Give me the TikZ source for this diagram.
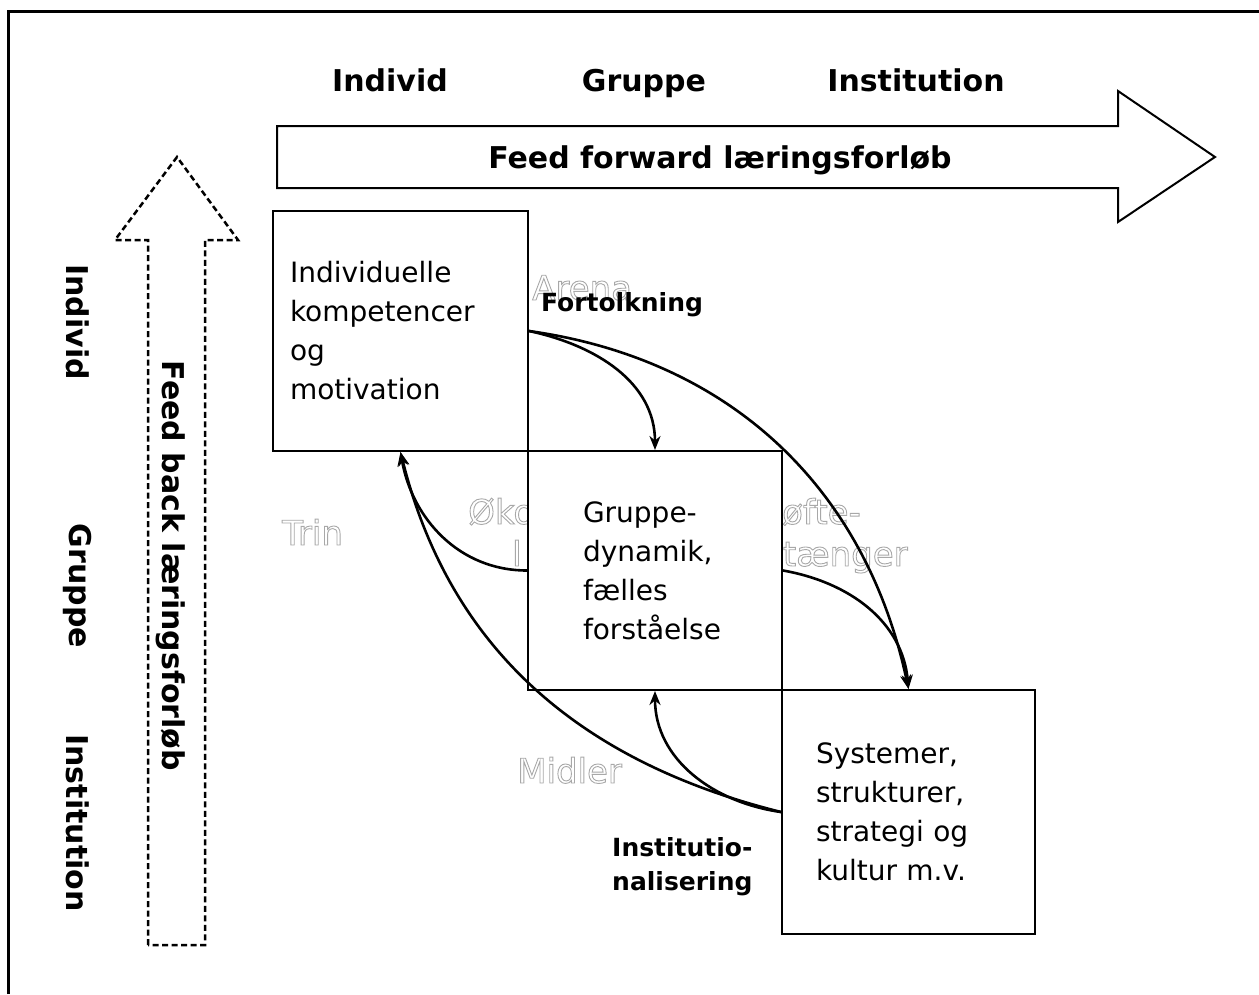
\documentclass[tikz,border=0pt]{standalone}
\usepackage{fontspec}
\setmainfont{DejaVu Sans}
\usepackage{xcolor}
\usetikzlibrary{positioning,arrows.meta}
\definecolor{ghostgray}{HTML}{A8A8A8}
\newcommand{\boxfont}{\fontsize{28}{39}\selectfont}
\newcommand{\axisfont}{\fontsize{30}{36}\selectfont\bfseries}
\newcommand{\lblfont}{\fontsize{25}{34}\selectfont\bfseries}
\newcommand{\ghostfont}{\fontsize{34}{41}\selectfont}
% hollow grey letters: stroke only
\newcommand{\ghost}[1]{\special{pdf:literal q 1 Tr 0.9 w 0.62 0.62 0.62 RG}%
  {\color{ghostgray}#1}\special{pdf:literal Q}}
\tikzset{
  >={Stealth[length=14pt,width=11pt]},
  box/.style   = {draw, line width=2pt, fill=white, align=left, font=\boxfont},
  axis/.style  = {font=\axisfont, inner sep=0pt, anchor=base},
  lbl/.style   = {font=\lblfont, align=left, inner sep=0pt},
  ghosttxt/.style = {font=\ghostfont, inner sep=0pt, anchor=base west},
  fat/.style   = {draw, line width=2pt, fill=white},
  loop/.style  = {->, line width=2.6pt},
}

\begin{document}
\begin{tikzpicture}[x=1pt, y=-1pt]
\useasboundingbox (0,0) rectangle (1259,994);

% ---- frame ------------------------------------------------------------
\draw[line width=3pt] (8,994) -- (8,11) -- (1259,11);

% ---- forward arrow ----------------------------------------------------
\draw[fat] (277,126) -- (1118,126) -- (1118,91) -- (1215,157)
  -- (1118,222) -- (1118,188) -- (277,188) -- cycle;
\node[axis] (fwd) at (720,168) {Feed forward læringsforløb};
\node[axis] (topI) at (390,91) {Individ};
\node[axis] (topG) at (644,91) {Gruppe};
\node[axis] (topS) at (916,91) {Institution};

% ---- feedback arrow ---------------------------------------------------
\draw[fat, line width=2.5pt, dash pattern=on 6pt off 3.5pt]
  (148,945) -- (148,240) -- (115,240) -- (177,157)
  -- (238,240) -- (205,240) -- (205,945) -- cycle;
\node[axis, rotate=-90, anchor=center] (bwd) at (171,566) {Feed back læringsforløb};
\node[axis, rotate=-90, anchor=center] (leftI) at (78,322) {Individ};
\node[axis, rotate=-90, anchor=center] (leftG) at (78,586) {Gruppe};
\node[axis, rotate=-90, anchor=center] (leftS) at (78,823) {Institution};

% ---- ghost labels (behind the boxes) ----------------------------------
\node[ghosttxt] (gArena) at (532,300) {\ghost{Arena}};
\node[ghosttxt] (gTrin) at (282,545) {\ghost{Trin}};
\node[ghosttxt] (gOek) at (468,524) {\ghost{Øko}};
\node[ghosttxt] (gOek2) at (512,566) {\ghost{l}};
\node[ghosttxt] (gLoeft) at (763,524) {\ghost{Løfte-}};
\node[ghosttxt] (gLoeft2) at (765,566) {\ghost{stænger}};
\node[ghosttxt] (gMidler) at (517,783) {\ghost{Midler}};

% ---- the three boxes --------------------------------------------------
\node[box, text width=221pt, inner xsep=17pt, minimum height=240pt]
  (b1) at (400.5,331) {Individuelle\\kompetencer\\og\\motivation};
\node[box, text width=144pt, inner xsep=55pt, minimum height=239pt]
  (b2) at (655,570.5) {Gruppe-\\dynamik,\\fælles\\forståelse};
\node[box, text width=185pt, inner xsep=34pt, minimum height=244pt]
  (b3) at (908.5,812) {Systemer,\\strukturer,\\strategi og\\kultur m.v.};

% ---- loops ------------------------------------------------------------
\draw[loop] (b1.east) to[out=-12, in=90] (b2.north);
\draw[loop] (b1.east) to[out=-8, in=102] (b3.north);
\draw[loop] (b2.east) to[out=-10, in=95] (b3.north);
\draw[loop] (b2.west) to[out=180, in=-80] (b1.south);
\draw[loop] (b3.west) to[out=166, in=-76] (b1.south);
\draw[loop] (b3.west) to[out=172, in=-90] (b2.south);

\node[lbl] (fort) at (622,305) {Fortolkning};
\node[lbl, anchor=west] (inst) at (612,867) {Institutio-\\nalisering};

\end{tikzpicture}
\end{document}
